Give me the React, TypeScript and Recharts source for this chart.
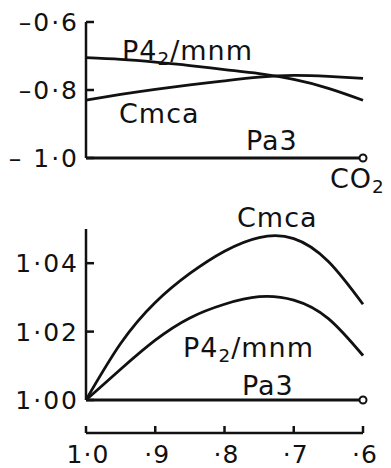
import { LineChart, Line, XAxis, YAxis } from 'recharts';

const ratios = [1.0, 0.95, 0.9, 0.85, 0.8, 0.75, 0.7, 0.65, 0.6];

// upper panel
const topP42 = [-0.705, -0.71, -0.718, -0.728, -0.74, -0.752, -0.769, -0.795, -0.83];
const topCmca = [-0.83, -0.813, -0.798, -0.785, -0.773, -0.762, -0.757, -0.76, -0.766];
const topPa3 = [-1.0, -1.0, -1.0, -1.0, -1.0, -1.0, -1.0, -1.0, -1.0];
const topTicks = [-1.0, -0.8, -0.6];
const topTickLabels = ['– 1·0', '–0·8', '–0·6'];

// lower panel
const botCmca = [1.0, 1.0165, 1.0285, 1.037, 1.0435, 1.0475, 1.0472, 1.0405, 1.028];
const botP42 = [1.0, 1.009, 1.0175, 1.024, 1.028, 1.0302, 1.0292, 1.0238, 1.013];
const botPa3 = [1.0, 1.0, 1.0, 1.0, 1.0, 1.0, 1.0, 1.0, 1.0];
const botTicks = [1.0, 1.02, 1.04];
const botTickLabels = ['1·00', '1·02', '1·04'];

const xTicks = [1.0, 0.9, 0.8, 0.7, 0.6];
const xTickLabels = ['1·0', '·9', '·8', '·7', '·6'];

const topData = ratios.map((r, i) => ({ r, p42: topP42[i], cmca: topCmca[i], pa3: topPa3[i] }));
const botData = ratios.map((r, i) => ({ r, p42: botP42[i], cmca: botCmca[i], pa3: botPa3[i] }));

const FONT = '"DejaVu Sans", sans-serif';
const INK = '#111';

function makeYTick(ticks: number[], labels: string[]) {
  return (props: any) => {
    const { x, y, payload } = props;
    const idx = ticks.findIndex((t) => Math.abs(t - payload.value) < 1e-6);
    return (
      <g>
        <line x1={x} y1={y} x2={x + 8} y2={y} stroke={INK} strokeWidth={2.5} />
        <text x={x - 7} y={y + 9} textAnchor="end" fontSize={25} fontFamily={FONT} fill={INK} letterSpacing={2}>
          {labels[idx]}
        </text>
      </g>
    );
  };
}

function XTick(props: any) {
  const { x, y, payload } = props;
  const idx = xTicks.findIndex((t) => Math.abs(t - payload.value) < 1e-6);
  return (
    <g>
      <line x1={x} y1={y} x2={x} y2={y - 7} stroke={INK} strokeWidth={2.5} />
      <text x={x + 2} y={y + 30} textAnchor="middle" fontSize={25} fontFamily={FONT} fill={INK} letterSpacing={1}>
        {xTickLabels[idx]}
      </text>
    </g>
  );
}

function endDot(props: any) {
  const { cx, cy, index } = props;
  if (index !== ratios.length - 1) return <g key={'d' + index} />;
  return <circle key={'d' + index} cx={cx} cy={cy} r={3.5} fill="#fff" stroke={INK} strokeWidth={2} />;
}

const lbl: React.CSSProperties = {
  position: 'absolute',
  fontFamily: FONT,
  fontSize: 27,
  color: INK,
  lineHeight: 1,
  whiteSpace: 'nowrap',
  letterSpacing: 1,
};
const sub: React.CSSProperties = { fontSize: '0.68em', verticalAlign: '-0.25em' };
const svgStyle: React.CSSProperties = { overflow: 'visible' };

export default function App() {
  return (
    <div style={{ position: 'absolute', left: 0, top: 0, width: 391, height: 468, background: '#fff', overflow: 'hidden' }}>
      <div style={{ position: 'absolute', left: 0, top: 0 }}>
        <LineChart width={391} height={180} data={topData} style={svgStyle} margin={{ top: 22, right: 28, left: 0, bottom: 22 }}>
          <XAxis dataKey="r" type="number" domain={[0.6, 1.0]} reversed hide height={0} />
          <YAxis
            type="number"
            domain={[-1.0, -0.6]}
            ticks={topTicks}
            width={86}
            tickSize={0}
            tickMargin={0}
            tickLine={false}
            axisLine={{ stroke: INK, strokeWidth: 2.5 }}
            tick={makeYTick(topTicks, topTickLabels)}
          />
          <Line dataKey="p42" type="natural" stroke={INK} strokeWidth={2.8} dot={false} isAnimationActive={false} />
          <Line dataKey="cmca" type="natural" stroke={INK} strokeWidth={2.8} dot={false} isAnimationActive={false} />
          <Line dataKey="pa3" type="linear" stroke={INK} strokeWidth={2.8} dot={endDot} isAnimationActive={false} />
        </LineChart>
      </div>

      <div style={{ position: 'absolute', left: 0, top: 200 }}>
        <LineChart width={391} height={268} data={botData} style={svgStyle} margin={{ top: 29, right: 28, left: 0, bottom: 68 }}>
          <XAxis dataKey="r" type="number" domain={[0.6, 1.0]} reversed hide height={0} />
          <YAxis
            type="number"
            domain={[1.0, 1.05]}
            ticks={botTicks}
            width={86}
            tickSize={0}
            tickMargin={0}
            tickLine={false}
            axisLine={{ stroke: INK, strokeWidth: 2.5 }}
            tick={makeYTick(botTicks, botTickLabels)}
          />
          <Line dataKey="cmca" type="natural" stroke={INK} strokeWidth={2.8} dot={false} isAnimationActive={false} />
          <Line dataKey="p42" type="natural" stroke={INK} strokeWidth={2.8} dot={false} isAnimationActive={false} />
          <Line dataKey="pa3" type="linear" stroke={INK} strokeWidth={2.8} dot={endDot} isAnimationActive={false} />
        </LineChart>
      </div>

      <div style={{ position: 'absolute', left: 0, top: 420 }}>
        <LineChart width={391} height={48} data={botData} style={svgStyle} margin={{ top: 0, right: 28, left: 86, bottom: 0 }}>
          <XAxis
            dataKey="r"
            type="number"
            domain={[0.6, 1.0]}
            reversed
            ticks={xTicks}
            height={35}
            tickSize={0}
            tickMargin={0}
            tickLine={false}
            axisLine={{ stroke: INK, strokeWidth: 2.5 }}
            tick={XTick}
            interval={0}
          />
        </LineChart>
      </div>

      <div style={{ ...lbl, left: 122, top: 37 }}>P4<span style={sub}>2</span>/mnm</div>
      <div style={{ ...lbl, left: 119, top: 100 }}>Cmca</div>
      <div style={{ ...lbl, left: 246, top: 127 }}>Pa3</div>
      <div style={{ ...lbl, left: 330, top: 165 }}>CO<span style={sub}>2</span></div>

      <div style={{ ...lbl, left: 237, top: 204 }}>Cmca</div>
      <div style={{ ...lbl, left: 183, top: 334 }}>P4<span style={sub}>2</span>/mnm</div>
      <div style={{ ...lbl, left: 242, top: 372 }}>Pa3</div>
    </div>
  );
}
